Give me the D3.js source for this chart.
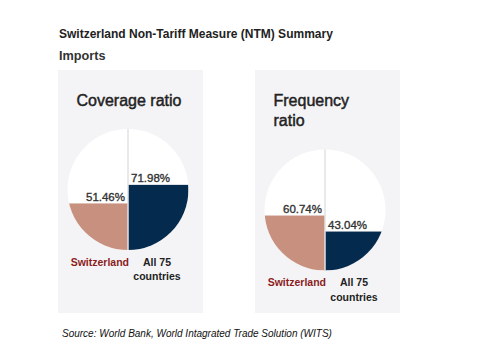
<!DOCTYPE html>
<meta charset="utf-8">
<script src="https://d3js.org/d3.v7.min.js"></script>
<style>
  body { margin: 0; background: #fff; }
  text { font-family: "Liberation Sans", Arial, sans-serif; }
</style>
<body>
<svg width="480" height="361"></svg>
<script>
  // chart data
  var panels = ["Coverage ratio", "Frequency ratio"];
  var titleLines = [["Coverage ratio"], ["Frequency", "ratio"]];
  var switzerland = [51.46, 60.74];
  var allCountries = [71.98, 43.04];
  var seriesLabels = ["Switzerland", "All 75 countries"];

  var svg = d3.select("svg");

  // header
  svg.append("text")
    .attr("x", 59).attr("y", 38.3)
    .attr("font-size", 12).attr("font-weight", "bold").attr("fill", "#222")
    .text("Switzerland Non-Tariff Measure (NTM) Summary");
  svg.append("text")
    .attr("x", 59).attr("y", 59.5)
    .attr("font-size", 12.7).attr("font-weight", "bold").attr("fill", "#333")
    .text("Imports");

  var x = d3.scaleBand().domain(panels).range([58, 400]).paddingInner(0.264);
  var R = 60.5;
  // height of the fill inside each half circle
  var h = d3.scaleLinear().domain([0, 100]).range([0, 90.5]);

  var g = svg.selectAll("g.panel")
    .data(panels)
    .enter().append("g")
    .attr("class", "panel")
    .attr("transform", function (d) { return "translate(" + x(d) + ",70)"; });

  g.append("rect")
    .attr("width", x.bandwidth()).attr("height", 243)
    .attr("fill", "#f4f4f6");

  g.each(function (d, i) {
    var p = d3.select(this);
    var lines = titleLines[i];
    lines.forEach(function (l, j) {
      p.append("text")
        .attr("x", 18.5).attr("y", 35.7 + j * 20.5)
        .attr("font-size", 16).attr("fill", "#222")
        .attr("stroke", "#222").attr("stroke-width", 0.45)
        .text(l);
    });

    var cx = 70, cy = 119.5 + (lines.length - 1) * 20.5;
    var clipId = "clip" + i;
    p.append("clipPath").attr("id", clipId)
      .append("circle").attr("cx", cx).attr("cy", cy).attr("r", R);

    p.append("circle").attr("cx", cx).attr("cy", cy).attr("r", R).attr("fill", "#fff");

    var sw = switzerland[i], al = allCountries[i];
    p.append("rect")
      .attr("clip-path", "url(#" + clipId + ")")
      .attr("x", cx - R).attr("width", R)
      .attr("y", cy + R - h(sw)).attr("height", h(sw))
      .attr("fill", "#c8917f");
    p.append("rect")
      .attr("clip-path", "url(#" + clipId + ")")
      .attr("x", cx).attr("width", R)
      .attr("y", cy + R - h(al)).attr("height", h(al))
      .attr("fill", "#042b4e");

    p.append("line")
      .attr("x1", cx).attr("x2", cx)
      .attr("y1", cy - R).attr("y2", cy + R)
      .attr("stroke", "#e2e2e4").attr("stroke-width", 1.5);

    // value labels sit just above each fill
    p.append("text")
      .attr("x", cx - 3).attr("y", cy + R - h(sw) - 2.5)
      .attr("text-anchor", "end")
      .attr("font-size", 11.5).attr("fill", "#333")
      .attr("stroke", "#333").attr("stroke-width", 0.35)
      .text(d3.format(".2f")(sw) + "%");
    p.append("text")
      .attr("x", cx + 3).attr("y", cy + R - h(al) - 2.5)
      .attr("font-size", 11.5).attr("fill", "#333")
      .attr("stroke", "#333").attr("stroke-width", 0.35)
      .text(d3.format(".2f")(al) + "%");

    // series names under the circle
    p.append("text")
      .attr("x", cx + 1).attr("y", cy + R + 15.5)
      .attr("text-anchor", "end")
      .attr("font-size", 10.5).attr("font-weight", "bold").attr("fill", "#8b1c1c")
      .text(seriesLabels[0]);
    var words = seriesLabels[1].split(" ");
    [words.slice(0, 2).join(" "), words.slice(2).join(" ")].forEach(function (l, j) {
      p.append("text")
        .attr("x", cx + 29).attr("y", cy + R + 15.5 + j * 14.5)
        .attr("text-anchor", "middle")
        .attr("font-size", 10.5).attr("font-weight", "bold").attr("fill", "#222")
        .text(l);
    });
  });

  svg.append("text")
    .attr("x", 62).attr("y", 337)
    .attr("font-family", "'Open Sans', sans-serif")
    .attr("font-style", "italic")
    .attr("font-size", 10).attr("fill", "#111")
    .text("Source: World Bank, World Intagrated Trade Solution (WITS)");
</script>
</body>
